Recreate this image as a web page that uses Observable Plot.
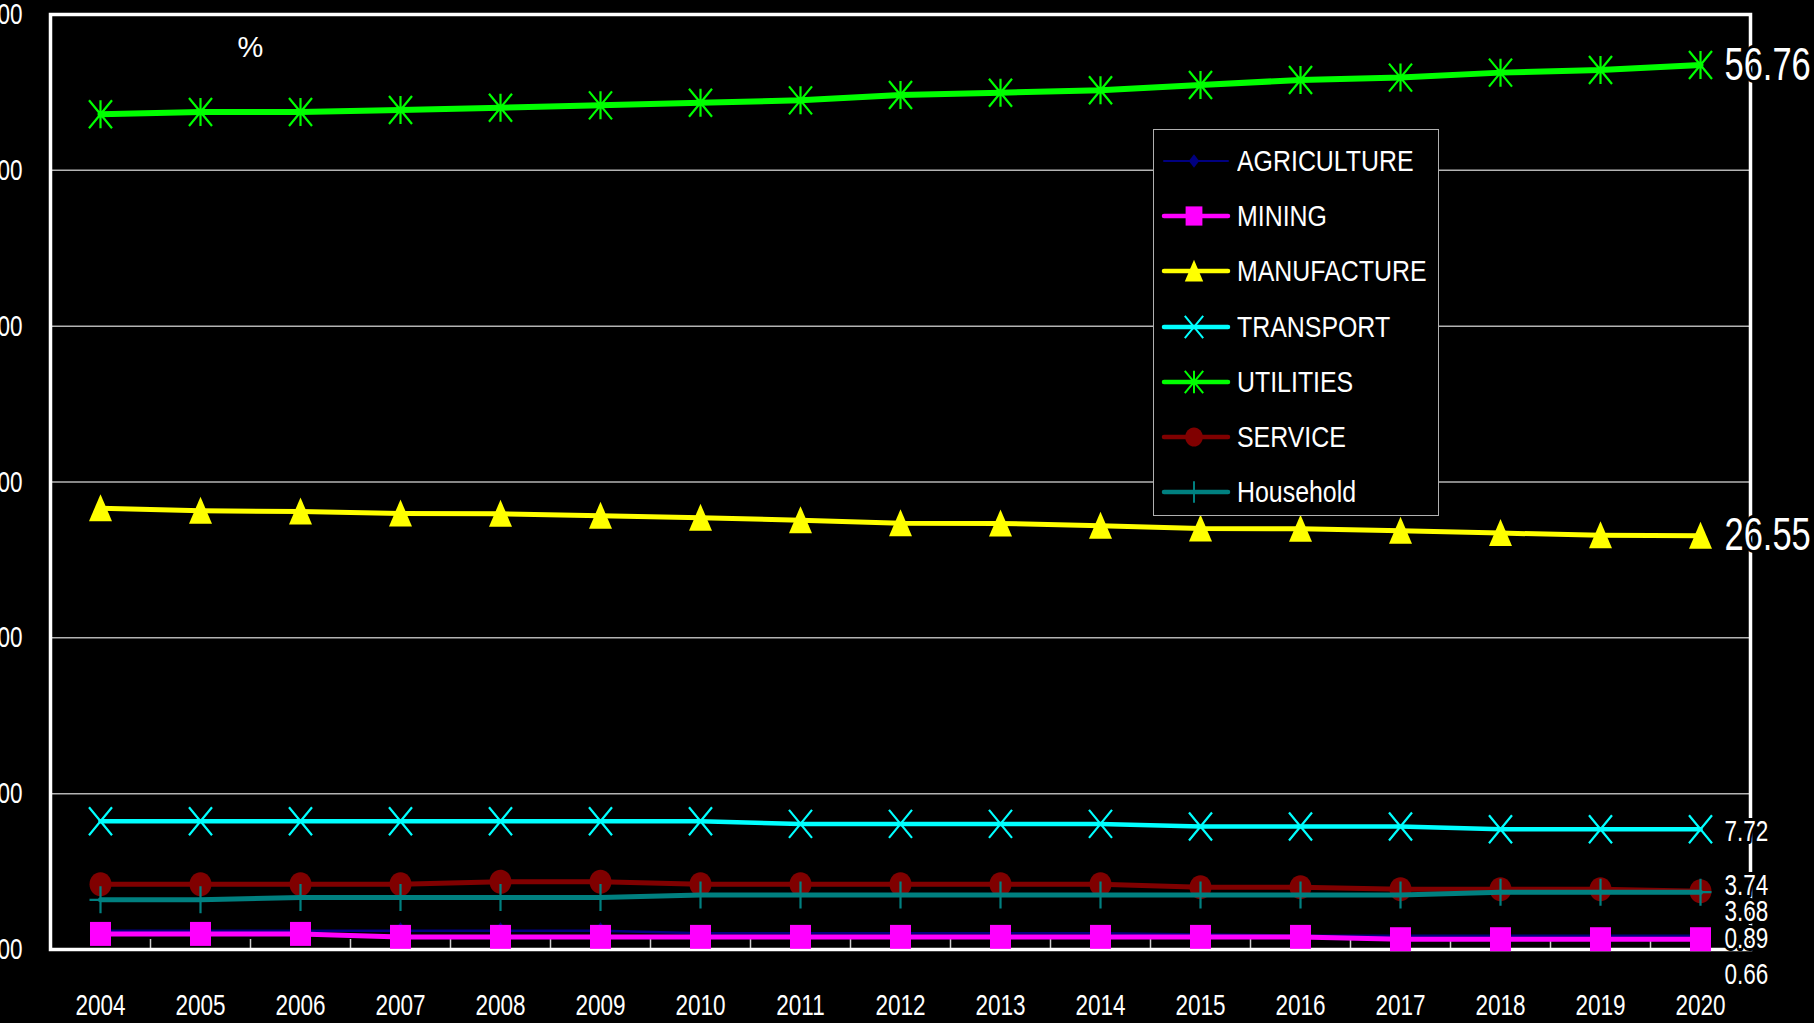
<!DOCTYPE html>
<html>
<head>
<meta charset="utf-8">
<script src="https://cdn.jsdelivr.net/npm/d3@7"></script>
<script src="https://cdn.jsdelivr.net/npm/@observablehq/plot@0.6"></script>
<style>
  html, body { margin: 0; padding: 0; background: #000; overflow: hidden; }
  #wrap { position: relative; width: 1814px; height: 1023px; }
  #legend { position: absolute; left: 1153px; top: 129px; width: 284px; height: 385px;
    border: 1.5px solid #b0b0b0; background: #000; }
  .row { position: absolute; left: 0; height: 40px; display: flex; align-items: center; white-space: nowrap; }
  .row span { color: #fff; font-size: 30px; margin-left: 3px; display: inline-block;
    transform: scaleX(0.83); transform-origin: left center;
    font-family: "Liberation Sans", Arial, sans-serif; }
</style>
</head>
<body>
<div id="wrap"><div id="chart"></div><div id="legend"></div></div>
<script>
const FONT = '"Liberation Sans", Arial, sans-serif';

// ---- data ----
const years = [2004,2005,2006,2007,2008,2009,2010,2011,2012,2013,2014,2015,2016,2017,2018,2019,2020];
const seriesNames = ["AGRICULTURE","MINING","MANUFACTURE","TRANSPORT","UTILITIES","SERVICE","Household"];
const agriculture = [1.21,1.21,1.21,1.21,1.21,1.21,1.05,1.05,1.05,1.05,1.05,0.97,0.89,0.89,0.89,0.89,0.89];
const mining      = [1.00,1.00,1.00,0.81,0.81,0.81,0.81,0.81,0.81,0.81,0.81,0.81,0.81,0.66,0.66,0.66,0.66];
const manufacture = [28.32,28.15,28.11,27.98,27.96,27.83,27.70,27.55,27.36,27.34,27.19,27.02,27.00,26.87,26.72,26.59,26.55];
const transport   = [8.23,8.23,8.23,8.23,8.23,8.23,8.23,8.06,8.06,8.06,8.06,7.89,7.89,7.89,7.72,7.72,7.72];
const utilities   = [53.60,53.74,53.74,53.87,54.02,54.17,54.34,54.49,54.83,54.98,55.14,55.48,55.80,55.95,56.27,56.44,56.76];
const service     = [4.19,4.19,4.19,4.19,4.34,4.34,4.19,4.19,4.19,4.19,4.19,4.00,4.00,3.87,3.87,3.87,3.74];
const household   = [3.19,3.19,3.34,3.34,3.34,3.34,3.49,3.49,3.49,3.49,3.49,3.49,3.49,3.49,3.68,3.68,3.68];
const yTicks = [0,10,20,30,40,50,60];
const unitLabel = "%";

const values = [agriculture, mining, manufacture, transport, utilities, service, household];

// ---- styles ----
function ellipse(ctx, rx, ry) {
  const k = 0.5523;
  ctx.moveTo(rx, 0);
  ctx.bezierCurveTo(rx, ry*k, rx*k, ry, 0, ry);
  ctx.bezierCurveTo(-rx*k, ry, -rx, ry*k, -rx, 0);
  ctx.bezierCurveTo(-rx, -ry*k, -rx*k, -ry, 0, -ry);
  ctx.bezierCurveTo(rx*k, -ry, rx, -ry*k, rx, 0);
  ctx.closePath();
}
const shapes = {
  diamond: (c, s) => { c.moveTo(0,-8.5*s); c.lineTo(6.5*s,0); c.lineTo(0,8.5*s); c.lineTo(-6.5*s,0); c.closePath(); },
  square: (c, s) => { c.rect(-10.5*s,-12*s,21*s,24*s); },
  triangle: (c, s) => { c.moveTo(0,-14*s); c.lineTo(11.5*s,13*s); c.lineTo(-11.5*s,13*s); c.closePath(); },
  times: (c, s) => { c.moveTo(-11.5*s,-14*s); c.lineTo(11.5*s,14*s); c.moveTo(-11.5*s,14*s); c.lineTo(11.5*s,-14*s); },
  asterisk: (c, s) => { c.moveTo(-11.5*s,-14*s); c.lineTo(11.5*s,14*s); c.moveTo(-11.5*s,14*s); c.lineTo(11.5*s,-14*s); c.moveTo(0,-14*s); c.lineTo(0,14*s); },
  ellipse: (c, s) => ellipse(c, 11*s, 12*s),
  plus: (c, s) => { c.moveTo(0,-13.5*s); c.lineTo(0,13.5*s); c.moveTo(-11*s,0); c.lineTo(11*s,0); }
};
const styles = [
  {color:"#000080", width:2.5, shape:"diamond", filled:true},
  {color:"#ff00ff", width:5, shape:"square", filled:true},
  {color:"#ffff00", width:5, shape:"triangle", filled:true},
  {color:"#00ffff", width:4.5, shape:"times", filled:false},
  {color:"#00ff00", width:6, shape:"asterisk", filled:false},
  {color:"#800000", width:5, shape:"ellipse", filled:true},
  {color:"#008080", width:5, shape:"plus", filled:false}
];
// end-label layout (pixel nudges and sizes)
const labelLayout = [
  {dy:3, size:30}, {dy:35, size:30}, {dy:0, size:46}, {dy:2, size:30},
  {dy:0, size:46}, {dy:-6, size:30}, {dy:19, size:30}
];

const rows = [];
seriesNames.forEach((name, i) => values[i].forEach((v, j) => rows.push({series:name, year:years[j], value:v})));

const marks = [
  Plot.gridY(yTicks.filter(t => t > 0 && t < 60), {stroke:"#b4b4b4", strokeOpacity:1, strokeWidth:1.5}),
  Plot.tickX(years.slice(0, -1), {x: d => d, dx: 50, stroke:"#d0d0d0", strokeWidth:1.5, insetTop: 925}),
  Plot.frame({stroke:"#fff", strokeWidth:3.5}),
  Plot.text([unitLabel], {frameAnchor:"top-left", lineAnchor:"middle", dx:200, dy:33, fontSize:29, fill:"#fff", textAnchor:"middle", className:"keepwidth"})
];
seriesNames.forEach((name, i) => {
  const st = styles[i];
  const data = rows.filter(r => r.series === name);
  marks.push(Plot.line(data, {x:"year", y:"value", stroke:st.color, strokeWidth:st.width, strokeLinejoin:"round"}));
  const sym = {draw(ctx) { shapes[st.shape](ctx, 1); }};
  marks.push(Plot.dot(data, {x:"year", y:"value", r:12, symbol:sym,
    fill: st.filled ? st.color : "none", stroke: st.color, strokeWidth: st.filled ? 0 : 2.2}));
});
seriesNames.forEach((name, i) => {
  const last = rows.filter(r => r.series === name).slice(-1);
  const L = labelLayout[i];
  marks.push(Plot.text(last, {x:"year", y:"value", text: d => d.value.toFixed(2), textAnchor:"start",
    dx:24, dy:L.dy, fontSize:L.size, fill:"#fff", stroke:"#000", strokeWidth:6, paintOrder:"stroke"}));
});
marks.push(Plot.axisY({ticks: yTicks, tickFormat: d => d.toFixed(2), tickSize:0, tickPadding:28, fontSize:30, fill:"#fff", label:null}));
marks.push(Plot.axisX({tickSize:0, tickPadding:44, tickFormat: String, fontSize:30, fill:"#fff", label:null}));

const chart = Plot.plot({
  width:1814, height:1023,
  marginLeft:50, marginRight:64, marginTop:14, marginBottom:74,
  style:{background:"#000", color:"#fff", fontFamily:FONT, fontSize:"30px"},
  x:{type:"point", domain:years, padding:0.5, label:null},
  y:{domain:[0,60], label:null},
  marks
});
document.getElementById("chart").appendChild(chart);

// condense the numeric texts horizontally (the original uses a narrow face)
chart.querySelectorAll("text").forEach(t => {
  if (t.closest(".keepwidth")) return;
  const w = t.getComputedTextLength();
  if (w > 0) {
    t.setAttribute("textLength", (w * 0.75).toFixed(1));
    t.setAttribute("lengthAdjust", "spacingAndGlyphs");
  }
});

// ---- legend ----
const legend = d3.select("#legend");
seriesNames.forEach((name, i) => {
  const st = styles[i];
  const row = legend.append("div").attr("class","row").style("top", (11 + i*55.2) + "px");
  const svg = row.append("svg").attr("width", 80).attr("height", 40);
  svg.append("line").attr("x1",10).attr("x2",74).attr("y1",20).attr("y2",20)
    .attr("stroke", st.color).attr("stroke-width", st.width === 2.5 ? 2 : 4.5).attr("stroke-linecap","round");
  const p = d3.path();
  shapes[st.shape](p, 0.8);
  svg.append("path").attr("d", p.toString()).attr("transform","translate(40,20)")
    .attr("fill", st.filled ? st.color : "none").attr("stroke", st.color).attr("stroke-width", st.filled ? 0 : 2);
  row.append("span").text(name);
});
</script>
</body>
</html>
